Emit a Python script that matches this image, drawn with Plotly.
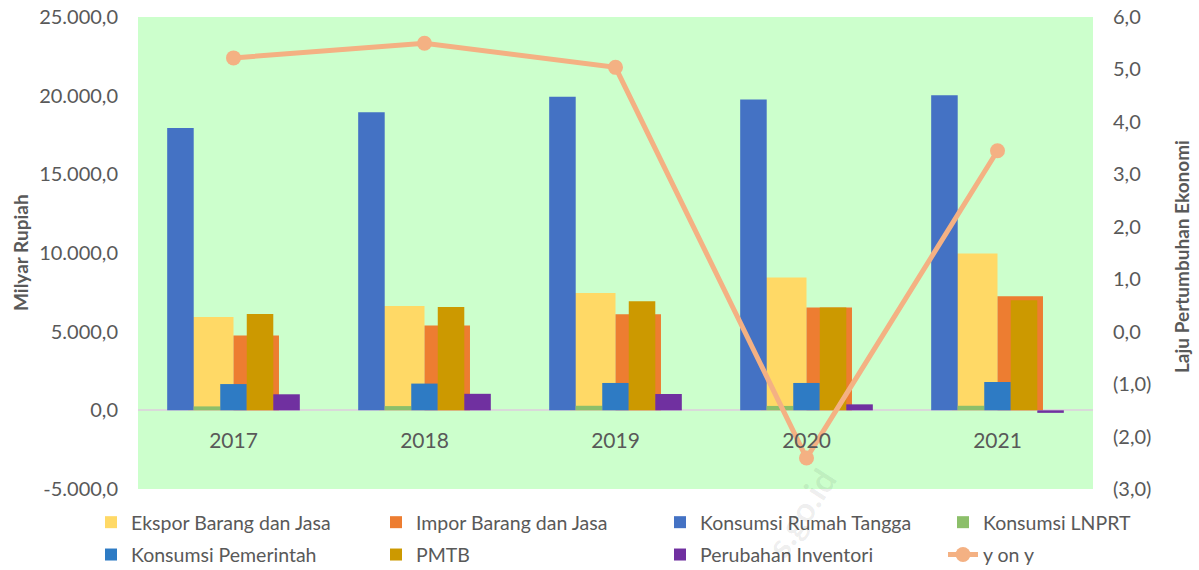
import plotly.graph_objects as go

# ---------------- data ----------------
years = ["2017", "2018", "2019", "2020", "2021"]
ekspor = [5930, 6630, 7460, 8440, 9970]
impor = [4750, 5390, 6110, 6530, 7250]
konsumsi_rt = [17950, 18950, 19930, 19760, 20030]
konsumsi_lnprt = [250, 270, 290, 280, 290]
konsumsi_pemerintah = [1670, 1700, 1740, 1740, 1800]
pmtb = [6120, 6570, 6930, 6530, 7000]
perubahan_inventori = [1020, 1050, 1040, 380, -160]
y_on_y = [5.22, 5.50, 5.04, -2.41, 3.45]

left_ticks = [-5000, 0, 5000, 10000, 15000, 20000, 25000]
right_ticks = [-3, -2, -1, 0, 1, 2, 3, 4, 5, 6]


def fmt_left(v):
    s = f"{abs(v):,.1f}".replace(",", "X").replace(".", ",").replace("X", ".")
    return "-" + s if v < 0 else s


def fmt_right(v):
    s = f"{abs(v):.1f}".replace(".", ",")
    return f"({s})" if v < 0 else s


left_text = [fmt_left(v) for v in left_ticks]
right_text = [fmt_right(v) for v in right_ticks]

# ---------------- style ----------------
FONT = "Lato, Calibri, sans-serif"
GREY = "#595959"
C_EKSPOR = "#FFD966"
C_IMPOR = "#ED7D31"
C_KRT = "#4472C4"
C_LNPRT = "#8CBF6A"
C_KP = "#2E7BC4"
C_PMTB = "#CC9900"
C_PI = "#7030A0"
C_LINE = "#F4B183"

# the page body margin is removed below, so figure fills the window
W, H = 1199, 570
PL, PR, PT, PB = 138, 1093, 17, 489  # plot area in window pixels
ML, MR, MT, MB = PL, W - PR, PT, H - PB


def cx(px):
    return px / W


def cy(py):
    return 1 - py / H


def paper_x(px):
    return (px - PL) / (PR - PL)


def paper_y(py):
    return 1 - (py - PT) / (PB - PT)


# two clusters with Excel-like gap width (~220%)
w2 = 1 / (2 + 2.2)
w5 = 1 / (5 + 2.2)

fig = go.Figure()


def add_bar(name, vals, color, offset, width, legend):
    fig.add_trace(go.Bar(
        x=years, y=vals, name=name, marker_color=color,
        marker_line_width=0, offset=offset, width=width,
        legend=legend, legendgroup=name,
    ))


add_bar("Ekspor Barang dan Jasa", ekspor, C_EKSPOR, -w2, w2, "legend")
add_bar("Impor Barang dan Jasa", impor, C_IMPOR, 0, w2, "legend2")
add_bar("Konsumsi Rumah Tangga", konsumsi_rt, C_KRT, -2.5 * w5, w5, "legend3")
add_bar("Konsumsi LNPRT", konsumsi_lnprt, C_LNPRT, -1.5 * w5, w5, "legend4")
add_bar("Konsumsi Pemerintah", konsumsi_pemerintah, C_KP, -0.5 * w5, w5, "legend")
add_bar("PMTB", pmtb, C_PMTB, 0.5 * w5, w5, "legend2")
add_bar("Perubahan Inventori", perubahan_inventori, C_PI, 1.5 * w5, w5, "legend3")

fig.add_trace(go.Scatter(
    x=years, y=y_on_y, name="y on y", yaxis="y2", mode="lines+markers",
    line=dict(color=C_LINE, width=5), marker=dict(color=C_LINE, size=15),
    legend="legend4", legendgroup="y on y",
))

LEG_FONT = 19.5
legend_common = dict(
    orientation="v", xref="container", yref="container",
    xanchor="left", yanchor="top", y=cy(503),
    font=dict(family=FONT, size=LEG_FONT, color=GREY),
    bgcolor="rgba(0,0,0,0)", tracegroupgap=4, itemwidth=30,
)

fig.update_layout(
    width=W, height=H,
    margin=dict(l=ML, r=MR, t=MT, b=MB, autoexpand=False),
    paper_bgcolor="white", plot_bgcolor="#CCFFCC",
    barmode="overlay",
    font=dict(family=FONT, size=18, color=GREY),
    xaxis=dict(
        type="category", range=[-0.5, 4.5], anchor="free",
        position=(0 - left_ticks[0]) / (left_ticks[-1] - left_ticks[0]),
        showline=False, showgrid=False, ticks="", ticklabelstandoff=16,
        automargin=False,
        tickfont=dict(family=FONT, size=21, color=GREY),
    ),
    yaxis=dict(
        range=[left_ticks[0], left_ticks[-1]], tickvals=left_ticks,
        ticktext=left_text, showgrid=False, zeroline=True,
        zerolinecolor="#D9D9D9", zerolinewidth=2, ticks="",
        ticklabelstandoff=19, automargin=False, ticklabeloverflow="allow",
        tickfont=dict(family=FONT, size=20, color=GREY),
    ),
    yaxis2=dict(
        overlaying="y", side="right", range=[right_ticks[0], right_ticks[-1]],
        tickvals=right_ticks, ticktext=right_text, showgrid=False,
        zeroline=False, ticks="", ticklabelstandoff=19, automargin=False,
        ticklabeloverflow="allow",
        tickfont=dict(family=FONT, size=20, color=GREY),
    ),
    legend=dict(legend_common, x=cx(91)),
    legend2=dict(legend_common, x=cx(376)),
    legend3=dict(legend_common, x=cx(660)),
    legend4=dict(legend_common, x=cx(943)),
)

# axis titles
fig.add_annotation(
    text="<b>Milyar Rupiah</b>", xref="paper", yref="paper",
    x=paper_x(20), y=paper_y(253), xanchor="center", yanchor="middle",
    showarrow=False, textangle=-90,
    font=dict(family=FONT, size=19, color=GREY),
)
fig.add_annotation(
    text="<b>Laju Pertumbuhan Ekonomi</b>", xref="paper", yref="paper",
    x=paper_x(1181), y=paper_y(257), xanchor="center", yanchor="middle",
    showarrow=False, textangle=-90,
    font=dict(family=FONT, size=19, color=GREY),
)

# faint watermark
fig.add_annotation(
    text="<b>s.go.id</b>", xref="paper", yref="paper",
    x=paper_x(800), y=paper_y(512), xanchor="center", yanchor="middle",
    showarrow=False, textangle=-57,
    font=dict(family=FONT, size=34, color="rgba(0,0,0,0.07)"),
)

fig.write_html(
    "out.html",
    config={"displayModeBar": False},
    post_script="document.body.style.margin='0px';",
)
